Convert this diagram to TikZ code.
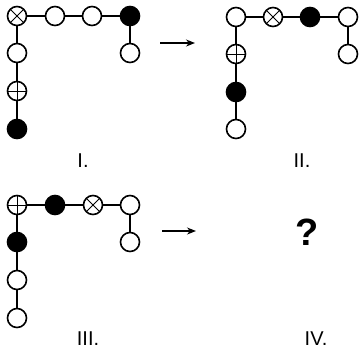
\documentclass[tikz,border=0pt]{standalone}
\usepackage{fontspec}
\setsansfont{Liberation Sans}
\usetikzlibrary{arrows.meta}
\tikzset{
  ball/.style={circle, draw, line width=1.6pt, minimum size=19pt, inner sep=0pt, fill=white},
  whiteball/.style={ball},
  blackball/.style={ball, fill=black},
  crossball/.style={ball, path picture={\draw[line width=1pt] (path picture bounding box.north west) -- (path picture bounding box.south east) (path picture bounding box.north east) -- (path picture bounding box.south west);}},
  plusball/.style={ball, path picture={\draw[line width=1pt] (path picture bounding box.north) -- (path picture bounding box.south) (path picture bounding box.west) -- (path picture bounding box.east);}},
  bond/.style={line width=1.3pt},
  numeral/.style={font=\sffamily\fontsize{20}{20}\selectfont}
}

\begin{document}
\begin{tikzpicture}[x=1pt, y=-1pt]
    \useasboundingbox (0,0) rectangle (361,357);

    % Panel I
    \node[crossball] (a1) at (17,16) {};
    \node[whiteball] (a2) at (55,16) {};
    \node[whiteball] (a3) at (92,16) {};
    \node[blackball] (a4) at (130,16) {};
    \node[whiteball] (a5) at (130,53) {};
    \node[whiteball] (a6) at (17,53) {};
    \node[plusball]  (a7) at (17,91) {};
    \node[blackball] (a8) at (17,129) {};
    \draw[bond] (a1) -- (a2) (a2) -- (a3) (a3) -- (a4) (a4) -- (a5);
    \draw[bond] (a1) -- (a6) (a6) -- (a7) (a7) -- (a8);
    \node[numeral] (la) at (83,161) {I.};

    % Panel II
    \node[whiteball] (b1) at (236,17) {};
    \node[crossball] (b2) at (273,17) {};
    \node[blackball] (b3) at (310,17) {};
    \node[whiteball] (b4) at (348,17) {};
    \node[whiteball] (b5) at (348,54) {};
    \node[plusball]  (b6) at (236,54) {};
    \node[blackball] (b7) at (236,92) {};
    \node[whiteball] (b8) at (236,129) {};
    \draw[bond] (b1) -- (b2) (b2) -- (b3) (b3) -- (b4) (b4) -- (b5);
    \draw[bond] (b1) -- (b6) (b6) -- (b7) (b7) -- (b8);
    \node[numeral] (lb) at (302,161) {II.};

    % Panel III
    \node[plusball]  (c1) at (17,205) {};
    \node[blackball] (c2) at (55,205) {};
    \node[crossball] (c3) at (93,205) {};
    \node[whiteball] (c4) at (130,205) {};
    \node[whiteball] (c5) at (130,242) {};
    \node[blackball] (c6) at (17,242) {};
    \node[whiteball] (c7) at (17,280) {};
    \node[whiteball] (c8) at (17,318) {};
    \draw[bond] (c1) -- (c2) (c2) -- (c3) (c3) -- (c4) (c4) -- (c5);
    \draw[bond] (c1) -- (c6) (c6) -- (c7) (c7) -- (c8);
    \node[numeral] (lc) at (88,339) {III.};

    % Panel IV
    \node[font=\sffamily\bfseries\fontsize{38}{38}\selectfont] (q) at (307,232) {?};
    \node[numeral] (ld) at (316,339) {IV.};

    % Arrows
    \coordinate (t1) at (160,43);
    \coordinate (t2) at (195,43);
    \coordinate (u1) at (162,231);
    \coordinate (u2) at (196,231);
    \draw[bond, -{Stealth[length=9pt, width=7pt]}] (t1) -- (t2);
    \draw[bond, -{Stealth[length=9pt, width=7pt]}] (u1) -- (u2);
\end{tikzpicture}
\end{document}
